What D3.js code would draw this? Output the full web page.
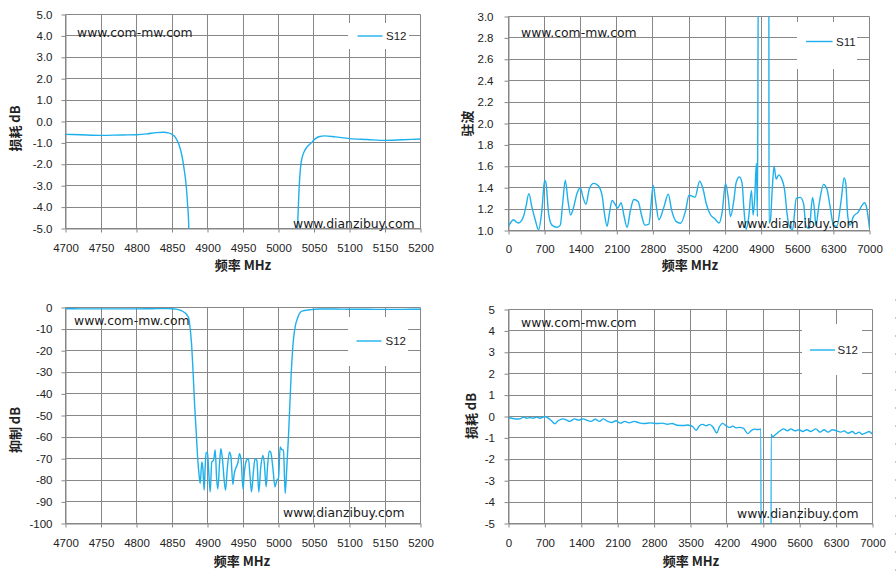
<!DOCTYPE html>
<html><head><meta charset="utf-8">
<script src="https://cdn.jsdelivr.net/npm/d3@7"></script>
<style>
body{margin:0;background:#fff}
svg{display:block}
</style></head><body>
<svg id="c" width="896" height="582"></svg>
<script>
// ---------- DATA ----------
// Narrow-band S12 (MHz, dB) used by top-left (loss) and bottom-left (rejection)
const nbFreq = [4700,4720,4750,4780,4800,4815,4828,4838,4845,4850,
 4855,4860,4864,4867,4870,4872,4873.5,4875,4877.5,4880,
 4882,4884,4886,4888,4889.7,4892,4893.4,4895.3,4896.7,4898,
 4900,4901.4,4903.8,4906,4908.5,4910.8,4913,4914.6,4917,4918.8,
 4921,4923.5,4925.4,4928,4931,4933,4935.7,4937.6,4940.4,4942.7,
 4945,4947.4,4950,4952,4955.4,4957.7,4960,4962,4964.8,4967,
 4969.5,4972.3,4975,4978,4980,4982.6,4984.5,4986.9,4989,4992,
 4995,4997.7,5000,5002.4,5004.7,5007,5009.4,5011.7,5014,5016,
 5018,5021,5024,5026.8,5028.5,5031.5,5035,5040,5046,5052,
 5058,5065,5080,5100,5125,5150,5175,5200];
const nbS12 = [-0.6,-0.62,-0.65,-0.63,-0.62,-0.58,-0.52,-0.5,-0.53,-0.6,
 -0.75,-1.1,-1.6,-2.2,-3.0,-3.9,-4.8,-8,-16.7,-32,
 -46,-57,-69,-77,-81.5,-71.5,-74,-84.6,-74,-67.4,
 -67,-74,-85.4,-71.5,-70.8,-66,-80,-84,-72,-65.4,
 -70,-80,-84.6,-74,-67,-69,-82,-77,-74,-72,
 -67.7,-70.8,-84,-76,-70.5,-70,-78.5,-85.4,-75.4,-70,
 -70.8,-85.4,-74,-68.5,-72,-83,-74,-66.5,-67,-74,
 -83,-80,-79,-64.6,-65.8,-66,-86,-74,-60,-45,
 -30,-15,-8,-5,-3.5,-2,-1.5,-1.2,-1.0,-0.8,
 -0.7,-0.67,-0.72,-0.8,-0.84,-0.88,-0.85,-0.82];

// Wide-band S11 VSWR
const s11Freq = [0,50,97,150,194,250,290,337,395,453,
 518,583,648,700,725,777,842,940,1004,1050,
 1101,1153,1205,1264,1328,1393,1445,1503,1568,1652,
 1736,1814,1860,1911,1957,2009,2061,2119,2184,2236,
 2300,2365,2430,2514,2579,2644,2722,2806,2851,2916,
 3014,3098,3163,3253,3337,3436,3500,3564,3616,3706,
 3771,3835,3919,4002,4080,4144,4208,4260,4305,4369,
 4415,4479,4530,4562,4608,4659,4711,4743,4775,4807,
 4827,4846,5048,5052,5080,5110,5150,5190,5240,5280,
 5355,5400,5464,5509,5580,5657,5722,5767,5831,5896,
 5934,5960,6024,6108,6173,6237,6302,6366,6450,6508,
 6540,6579,6624,6688,6785,6849,6901,6946,7000];
const s11Vswr = [1.04,1.08,1.10,1.08,1.07,1.09,1.13,1.22,1.345,1.22,
 1.10,1.005,1.19,1.47,1.45,1.16,1.05,1.03,1.05,1.25,
 1.47,1.28,1.145,1.22,1.345,1.40,1.31,1.246,1.39,1.44,
 1.42,1.33,1.16,1.04,1.16,1.28,1.25,1.21,1.26,1.145,
 1.03,1.19,1.29,1.27,1.145,1.05,1.06,1.42,1.28,1.10,
 1.22,1.34,1.19,1.083,1.068,1.19,1.33,1.32,1.31,1.46,
 1.39,1.25,1.145,1.11,1.07,1.175,1.44,1.31,1.13,1.28,
 1.45,1.50,1.44,1.22,1.01,1.13,1.375,1.145,1.31,1.63,
 1.13,3.6,3.6,1.07,1.10,1.35,1.60,1.48,1.52,1.50,
 1.375,1.16,1.02,1.01,1.30,1.31,1.25,1.04,1.02,1.31,
 1.19,1.05,1.25,1.43,1.39,1.22,1.05,1.04,1.28,1.49,
 1.44,1.13,1.05,1.13,1.175,1.23,1.26,1.21,1.02];

// Wide-band S12 loss
const wbFreq = [0,64,160,223,286,350,413,477,541,604,
 700,763,827,890,954,1050,1113,1177,1272,1348,
 1431,1526,1590,1666,1749,1825,1908,1984,2067,2150,
 2239,2321,2417,2493,2595,2735,2862,2957,3053,3148,
 3244,3371,3449,3500,3545,3609,3673,3736,3800,3864,
 3928,4005,4056,4120,4184,4248,4312,4375,4439,4522,
 4599,4663,4727,4791,4855,4865,5040,5050,5078,5142,
 5206,5289,5366,5430,5507,5590,5654,5737,5813,5909,
 5992,6069,6146,6229,6312,6389,6452,6529,6612,6676,
 6740,6804,6887,6932,7000];
const wbS12 = [-0.05,-0.08,-0.12,-0.11,-0.03,-0.08,-0.05,-0.08,-0.03,-0.08,
 0.0,-0.08,-0.2,-0.34,-0.2,-0.11,-0.16,-0.23,-0.11,-0.17,
 -0.11,-0.19,-0.23,-0.125,-0.23,-0.11,-0.23,-0.28,-0.2,-0.31,
 -0.23,-0.30,-0.23,-0.28,-0.33,-0.30,-0.33,-0.31,-0.36,-0.33,
 -0.41,-0.42,-0.4,-0.43,-0.48,-0.64,-0.43,-0.37,-0.43,-0.37,
 -0.48,-0.77,-0.48,-0.32,-0.43,-0.51,-0.45,-0.53,-0.51,-0.56,
 -0.8,-0.67,-0.59,-0.61,-0.59,-30,-30,-0.83,-0.94,-0.83,
 -0.7,-0.58,-0.67,-0.58,-0.67,-0.62,-0.7,-0.62,-0.7,-0.58,
 -0.73,-0.62,-0.73,-0.62,-0.67,-0.73,-0.67,-0.78,-0.7,-0.81,
 -0.73,-0.83,-0.75,-0.7,-0.83];

// Tick values
const narrowTicks = [4700,4750,4800,4850,4900,4950,5000,5050,5100,5150,5200];
const wideTicks = [0,700,1400,2100,2800,3500,4200,4900,5600,6300,7000];
const lossTicks = [-5,-4,-3,-2,-1,0,1,2,3,4,5];
const vswrTicks = [1.0,1.2,1.4,1.6,1.8,2.0,2.2,2.4,2.6,2.8,3.0];
const rejTicks = [-100,-90,-80,-70,-60,-50,-40,-30,-20,-10,0];

// Labels
const xTitle = "频率 MHz";
const yTitles = ["损耗 dB","驻波","抑制 dB","损耗 dB"];
const seriesNames = ["S12","S11","S12","S12"];
const marks = ["www.com-mw.com","www.dianzibuy.com"];

// ---------- DRAW ----------
const GRID = "#878787", LINE = "#1DB0EC", TXT = "#222";
const svg = d3.select("#c");
const crisp = v => Math.round(v - 0.5) + 0.5;

function panel(o, idx){
  const x = d3.scaleLinear().domain(o.xd).range(o.xr);
  const y = d3.scaleLinear().domain(o.yd).range(o.yr);
  const g = svg.append("g");
  const [x0,x1] = o.xr, [y0,y1] = o.yr; // y0 bottom, y1 top
  // grid
  g.append("g").selectAll("line").data(o.xt).join("line")
    .attr("x1", d => crisp(x(d))).attr("x2", d => crisp(x(d)))
    .attr("y1", y1).attr("y2", y0).attr("stroke", GRID).attr("stroke-width",1);
  g.append("g").selectAll("line").data(o.yt).join("line")
    .attr("y1", d => crisp(y(d))).attr("y2", d => crisp(y(d)))
    .attr("x1", x0).attr("x2", x1).attr("stroke", GRID).attr("stroke-width",1);
  // axes (tick marks + labels)
  const ax = g.append("g").attr("transform", `translate(0,${crisp(y0)})`)
    .call(d3.axisBottom(x).tickValues(o.xt).tickSize(4).tickSizeOuter(0)
      .tickPadding(o.xpad).tickFormat(d => String(d)));
  const ay = g.append("g").attr("transform", `translate(${crisp(x0)},0)`)
    .call(d3.axisLeft(y).tickValues(o.yt).tickSize(4).tickSizeOuter(0)
      .tickPadding(o.ypad).tickFormat(o.yf));
  [ax, ay].forEach(a => {
    a.select(".domain").attr("stroke", GRID);
    a.selectAll(".tick line").attr("stroke", GRID);
    a.selectAll(".tick text").attr("fill", TXT)
      .attr("font-family", "'Liberation Sans', Arial, sans-serif").attr("font-size", 11.5);
  });
  // legend box
  const L = o.leg;
  g.append("rect").attr("x", L.bx).attr("y", L.by).attr("width", L.bw).attr("height", L.bh).attr("fill", "#fff");
  // clip + curve
  const cid = "clip" + idx;
  svg.append("clipPath").attr("id", cid).append("rect")
    .attr("x", x0).attr("y", y1).attr("width", x1 - x0).attr("height", y0 - y1);
  const data = d3.zip(o.fx, o.fy);
  g.append("path").datum(data).attr("clip-path", `url(#${cid})`)
    .attr("fill", "none").attr("stroke", LINE).attr("stroke-width", 1.4)
    .attr("stroke-linejoin", "round")
    .attr("d", d3.line().x(d => x(d[0])).y(d => y(d[1])).curve(d3.curveMonotoneX));
  // legend entry
  g.append("line").attr("x1", L.lx1).attr("x2", L.lx2).attr("y1", L.ly).attr("y2", L.ly)
    .attr("stroke", LINE).attr("stroke-width", 1.4);
  g.append("text").attr("x", L.tx).attr("y", L.ly).attr("dy", "0.35em").text(o.name)
    .attr("fill", TXT).attr("font-family", "'Liberation Sans', Arial, sans-serif").attr("font-size", 11.5);
  // watermarks
  o.wm.forEach((w, i) => {
    g.append("text").attr("x", w[0]).attr("y", w[1]).text(marks[i])
      .attr("fill", "#1a1a1a").attr("font-family", "'DejaVu Sans', Verdana, sans-serif").attr("font-size", 12.4);
  });
  // axis titles
  g.append("text").attr("x", o.xtitle[0]).attr("y", o.xtitle[1]).attr("text-anchor", "middle")
    .text(xTitle).attr("font-family", "'Noto Sans CJK SC', sans-serif").attr("font-weight", "bold")
    .attr("font-size", 13).attr("fill", TXT);
  g.append("text").attr("transform", `translate(${o.ytitle[0]},${o.ytitle[1]}) rotate(-90)`)
    .attr("text-anchor", "middle").attr("dy", "0.35em")
    .text(o.yname).attr("font-family", "'Noto Sans CJK SC', sans-serif").attr("font-weight", "bold")
    .attr("font-size", 13).attr("fill", TXT);
}

const f1 = d => d.toFixed(1), f0 = d => String(d);

panel({xd:[4700,5200], xr:[65.5,420.5], yd:[-5,5], yr:[228.5,14.5], xt:narrowTicks, yt:lossTicks,
  yf:f1, xpad:11, ypad:9, fx:nbFreq, fy:nbS12, name:seriesNames[0], yname:yTitles[0],
  leg:{bx:348,by:23,bw:61,bh:26,lx1:357.5,lx2:382.5,ly:36,tx:386},
  wm:[[77,36.5],[293,228]], xtitle:[243,270], ytitle:[15,128.5]}, 0);

panel({xd:[0,7000], xr:[508.5,869.5], yd:[1,3], yr:[230.5,16.5], xt:wideTicks, yt:vswrTicks,
  yf:f1, xpad:10.5, ypad:11, fx:s11Freq, fy:s11Vswr, name:seriesNames[1], yname:yTitles[1],
  leg:{bx:797,by:22,bw:60,bh:47,lx1:806,lx2:832.5,ly:41.5,tx:836},
  wm:[[521,36.5],[737,228]], xtitle:[690,270], ytitle:[467,123.5]}, 1);

panel({xd:[4700,5200], xr:[65.5,420.5], yd:[-100,0], yr:[523.5,307.5], xt:narrowTicks, yt:rejTicks,
  yf:f0, xpad:11, ypad:9, fx:nbFreq, fy:nbS12, name:seriesNames[2], yname:yTitles[2],
  leg:{bx:348,by:317,bw:60,bh:49,lx1:356.5,lx2:381.5,ly:341,tx:385.5},
  wm:[[74,324.5],[283,517]], xtitle:[242,565.5], ytitle:[15,430]}, 2);

panel({xd:[0,7000], xr:[508.5,872.5], yd:[-5,5], yr:[523.5,309.5], xt:wideTicks, yt:lossTicks,
  yf:f0, xpad:11, ypad:9.5, fx:wbFreq, fy:wbS12, name:seriesNames[3], yname:yTitles[3],
  leg:{bx:802,by:324,bw:60,bh:51,lx1:810,lx2:835,ly:350,tx:837.5},
  wm:[[521,326.5],[737,518]], xtitle:[691,566], ytitle:[471,416]}, 3);

// faint dotted edge at far right
svg.append("line").attr("x1", 895.5).attr("x2", 895.5).attr("y1", 299).attr("y2", 582)
  .attr("stroke", "#c8c8c8").attr("stroke-dasharray", "2,16");
</script>
</body></html>
